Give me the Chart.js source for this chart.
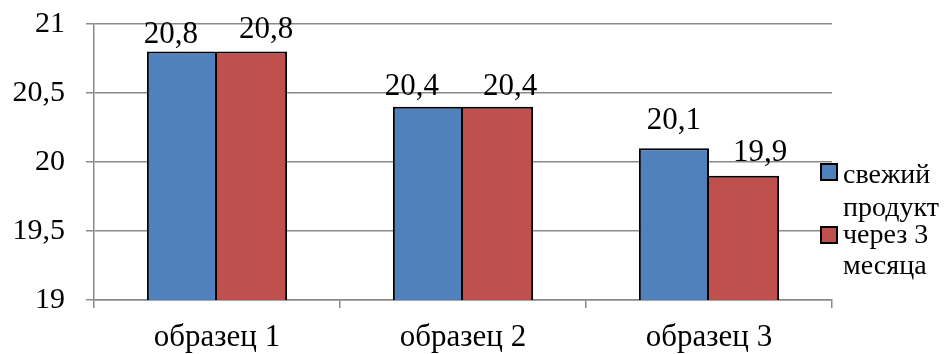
<!DOCTYPE html>
<html>
<head>
<meta charset="utf-8">
<script src="https://cdn.jsdelivr.net/npm/chart.js@4.4.1/dist/chart.umd.min.js"></script>
<style>
  html, body { margin: 0; padding: 0; background: #ffffff; }
  #wrap { width: 945px; height: 354px; }
</style>
</head>
<body>
<div id="wrap"><canvas id="chart" width="945" height="354"></canvas></div>
<script>
// Samples and measured values
const categories = ['образец 1', 'образец 2', 'образец 3'];
const freshValues = [20.8, 20.4, 20.1];
const storedValues = [20.8, 20.4, 19.9];
const seriesNames = [['свежий', 'продукт'], ['через 3', 'месяца']];
const yTicks = [19, 19.5, 20, 20.5, 21];

const FONT = "'Liberation Serif', 'Times New Roman', serif";
const GRID = '#8a8a8a';
const fmt = v => String(v).replace('.', ',');

// Value labels above each bar, nudged apart so neighbours don't collide
const labelNudge = [
  [[-11, 3], [-16, 0], [0, -7]],
  [[14, -2], [12, 0], [16, -3]]
];
const valueLabels = {
  id: 'valueLabels',
  afterDatasetsDraw(chart) {
    const ctx = chart.ctx;
    ctx.save();
    ctx.font = '31px ' + FONT;
    ctx.fillStyle = '#000';
    ctx.textAlign = 'center';
    ctx.textBaseline = 'alphabetic';
    chart.data.datasets.forEach((ds, i) => {
      chart.getDatasetMeta(i).data.forEach((bar, j) => {
        const [dx, dy] = labelNudge[i][j];
        ctx.fillText(fmt(ds.data[j]), bar.x + dx, bar.y - 12 + dy);
      });
    });
    ctx.restore();
  }
};

// Legend on the right with wrapped series names
const sideLegend = {
  id: 'sideLegend',
  afterDraw(chart) {
    const ctx = chart.ctx;
    ctx.save();
    ctx.font = '28px ' + FONT;
    ctx.textBaseline = 'alphabetic';
    ctx.textAlign = 'left';
    const x0 = 821, size = 16;
    const entries = [
      { boxY: 164, lines: [183, 216] },
      { boxY: 227, lines: [243, 274] }
    ];
    chart.data.datasets.forEach((ds, i) => {
      const e = entries[i];
      ctx.fillStyle = ds.backgroundColor;
      ctx.fillRect(x0, e.boxY, size, size);
      ctx.strokeStyle = '#000';
      ctx.lineWidth = 2;
      ctx.strokeRect(x0, e.boxY, size, size);
      ctx.fillStyle = '#000';
      seriesNames[i].forEach((t, k) => ctx.fillText(t, x0 + 22, e.lines[k]));
    });
    ctx.restore();
  }
};

new Chart(document.getElementById('chart'), {
  type: 'bar',
  data: {
    labels: categories,
    datasets: [
      { label: seriesNames[0].join(' '), data: freshValues, backgroundColor: '#4F81BD', borderColor: '#000',
        borderWidth: { top: 2, left: 2, right: 2, bottom: 0 }, borderSkipped: false },
      { label: seriesNames[1].join(' '), data: storedValues, backgroundColor: '#C0504D', borderColor: '#000',
        borderWidth: { top: 2, left: 0, right: 2, bottom: 0 }, borderSkipped: false }
    ]
  },
  options: {
    responsive: false,
    animation: false,
    layout: { padding: { top: 24, right: 113, left: 0, bottom: 0 } },
    datasets: { bar: { categoryPercentage: 0.57, barPercentage: 1.0 } },
    plugins: { legend: { display: false }, tooltip: { enabled: false } },
    scales: {
      x: {
        offset: true,
        grid: { offset: true, drawOnChartArea: false, drawTicks: true, tickLength: 8, color: GRID, lineWidth: 1.5 },
        border: { color: GRID, width: 1.5 },
        ticks: { color: '#000', font: { family: FONT, size: 31 }, padding: 11, maxRotation: 0, autoSkip: false },
        afterFit(scale) { scale.height = 54; scale.paddingLeft = 0; scale.paddingRight = 0; }
      },
      y: {
        min: 19, max: 21,
        afterBuildTicks(scale) { scale.ticks = yTicks.map(v => ({ value: v })); },
        grid: { color: GRID, lineWidth: 1.5, tickLength: 8 },
        border: { color: GRID, width: 1.5 },
        ticks: { color: '#000', font: { family: FONT, size: 30 }, padding: 21, callback: v => fmt(v) },
        afterFit(scale) { scale.width = 94; scale.paddingTop = 0; scale.paddingBottom = 0; }
      }
    }
  },
  plugins: [valueLabels, sideLegend]
});
</script>
</body>
</html>
